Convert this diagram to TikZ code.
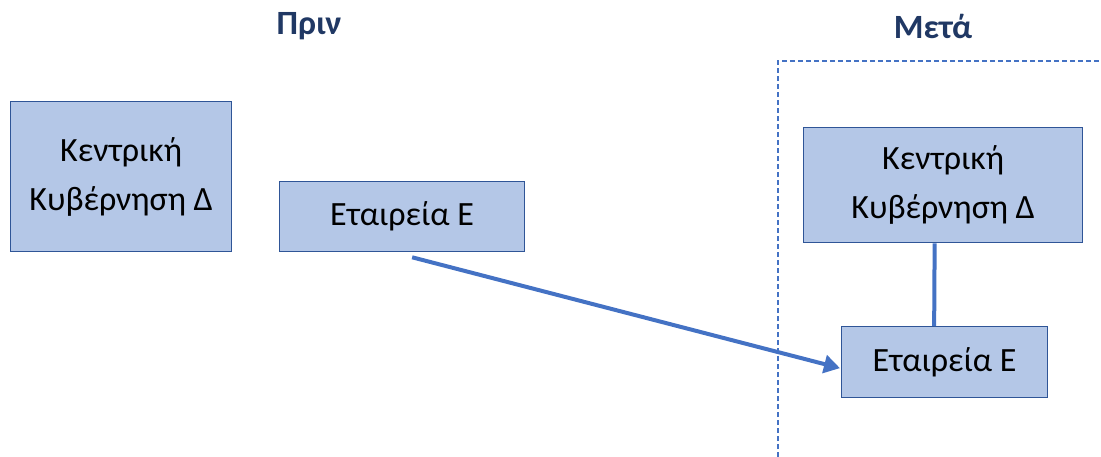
\documentclass[tikz,border=0pt]{standalone}
\usepackage{fontspec}
\setmainfont{Carlito}
\usetikzlibrary{calc,arrows.meta}
\definecolor{boxfill}{HTML}{B4C7E7}
\definecolor{boxline}{HTML}{2F5597}
\definecolor{accent}{HTML}{4472C4}
\definecolor{titlecol}{HTML}{203864}
\tikzset{
  box/.style={draw=boxline, fill=boxfill, line width=1.3pt, anchor=north west, align=center, inner sep=0pt, font=\fontsize{34}{49}\selectfont},
  title/.style={text=titlecol, font=\bfseries\fontsize{34}{40}\selectfont},
  conn/.style={draw=accent, line width=4pt},
  sep/.style={draw=accent, line width=1.5pt, dash pattern=on 5pt off 3pt}
}
\begin{document}
\begin{tikzpicture}[x=1pt,y=-1pt]
\useasboundingbox (0,0) rectangle (1101,457);
\node[title] (t1) at (309,26) {Πριν};
\node[title] (t2) at (933,26) {Μετά};
\node[box, minimum width=221pt, minimum height=150pt] (b1) at (10,101) {Κεντρική\\Κυβέρνηση Δ};
\node[box, minimum width=245pt, minimum height=70pt] (b2) at (279,181) {Εταιρεία Ε};
\node[box, minimum width=279pt, minimum height=115pt] (b3) at (803,127) {Κεντρική\\Κυβέρνηση Δ};
\node[box, minimum width=206pt, minimum height=71pt] (b4) at (841,326) {Εταιρεία Ε};
\coordinate (d1) at (778,457);
\coordinate (d2) at (778,61);
\coordinate (d3) at (1101,61);
\draw[sep] (d1) -- (d2) -- (d3);
\draw[conn] ($(b3.south)+(-8.5,0)$) -- ($(b4.north)+(-10.5,0)$);
\draw[conn, -{Triangle[length=16pt,width=18pt]}] ($(b2.south)+(10,5)$) -- ($(b4.west)+(-1,6)$);
\end{tikzpicture}
\end{document}
